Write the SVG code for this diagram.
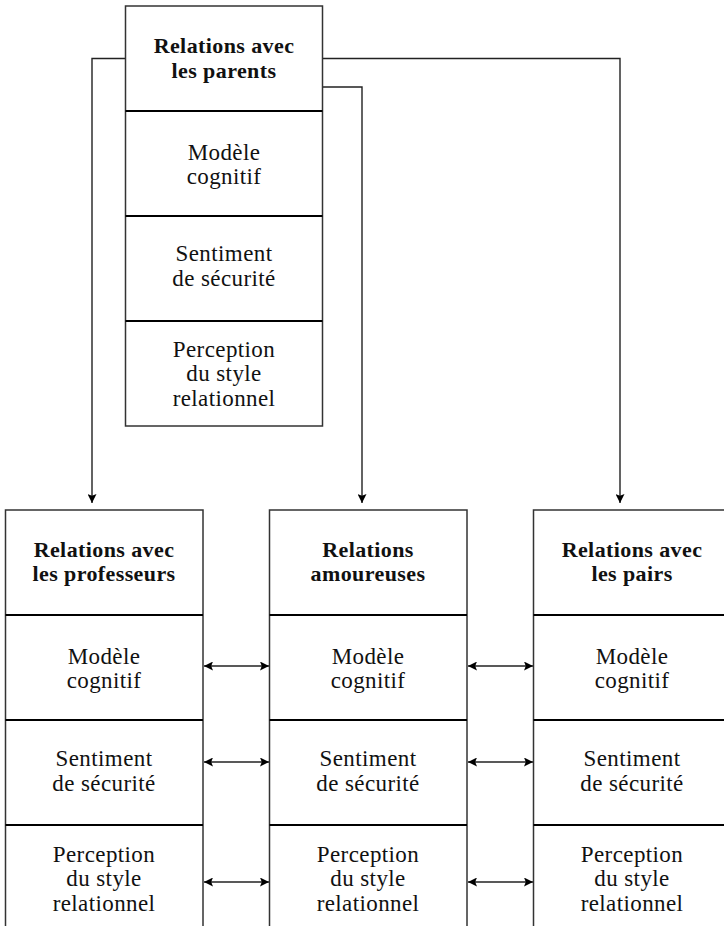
<svg xmlns="http://www.w3.org/2000/svg" width="724" height="926" viewBox="0 0 724 926">
<style>
.box{fill:#fff;stroke:#333;stroke-width:1.5}
.div{stroke:#000;stroke-width:2}
.t{font-family:"Liberation Serif","Times New Roman",serif;font-size:23px;letter-spacing:0.4px;text-anchor:middle;fill:#111}
.b{font-family:"Liberation Serif","Times New Roman",serif;font-size:22px;font-weight:bold;letter-spacing:0.4px;text-anchor:middle;fill:#111}
.c{fill:none;stroke:#222;stroke-width:1.4}
</style>
<defs>
<marker id="ah" viewBox="0 0 10 10" refX="10" refY="5" markerWidth="9" markerHeight="9" markerUnits="userSpaceOnUse" orient="auto-start-reverse">
<path d="M0,0 L10,5 L0,10 L2,5 z" fill="#000"/>
</marker>
</defs>

<g id="connectors">
<path class="c" d="M125.5,58.5 H92 V503" marker-end="url(#ah)"/>
<path class="c" d="M322.5,87 H362 V503" marker-end="url(#ah)"/>
<path class="c" d="M322.5,58.5 H620 V503" marker-end="url(#ah)"/>
<path class="c" d="M204,666 H269" marker-start="url(#ah)" marker-end="url(#ah)"/>
<path class="c" d="M204,762 H269" marker-start="url(#ah)" marker-end="url(#ah)"/>
<path class="c" d="M204,882 H269" marker-start="url(#ah)" marker-end="url(#ah)"/>
<path class="c" d="M468,666 H533" marker-start="url(#ah)" marker-end="url(#ah)"/>
<path class="c" d="M468,762 H533" marker-start="url(#ah)" marker-end="url(#ah)"/>
<path class="c" d="M468,882 H533" marker-start="url(#ah)" marker-end="url(#ah)"/>
</g>

<g id="parents">
<rect class="box" x="125.5" y="6" width="197" height="420"/>
<line class="div" x1="125.5" y1="111" x2="322.5" y2="111"/>
<line class="div" x1="125.5" y1="216" x2="322.5" y2="216"/>
<line class="div" x1="125.5" y1="321" x2="322.5" y2="321"/>
<text class="b" x="224" y="53">Relations avec</text>
<text class="b" x="224" y="78">les parents</text>
<text class="t" x="224" y="160">Modèle</text>
<text class="t" x="224" y="183.5">cognitif</text>
<text class="t" x="224" y="261">Sentiment</text>
<text class="t" x="224" y="285.5">de sécurité</text>
<text class="t" x="224" y="356.5">Perception</text>
<text class="t" x="224" y="381">du style</text>
<text class="t" x="224" y="405.5">relationnel</text>
</g>

<g id="professeurs">
<rect class="box" x="5.5" y="510" width="197.5" height="420"/>
<line class="div" x1="5.5" y1="615" x2="203" y2="615"/>
<line class="div" x1="5.5" y1="720" x2="203" y2="720"/>
<line class="div" x1="5.5" y1="825" x2="203" y2="825"/>
<text class="b" x="104" y="557">Relations avec</text>
<text class="b" x="104" y="581">les professeurs</text>
<text class="t" x="104" y="663.5">Modèle</text>
<text class="t" x="104" y="687.5">cognitif</text>
<text class="t" x="104" y="766">Sentiment</text>
<text class="t" x="104" y="791">de sécurité</text>
<text class="t" x="104" y="861.5">Perception</text>
<text class="t" x="104" y="886">du style</text>
<text class="t" x="104" y="911">relationnel</text>
</g>

<g id="amoureuses">
<rect class="box" x="269.5" y="510" width="197.5" height="420"/>
<line class="div" x1="269.5" y1="615" x2="467" y2="615"/>
<line class="div" x1="269.5" y1="720" x2="467" y2="720"/>
<line class="div" x1="269.5" y1="825" x2="467" y2="825"/>
<text class="b" x="368" y="557">Relations</text>
<text class="b" x="368" y="581">amoureuses</text>
<text class="t" x="368" y="663.5">Modèle</text>
<text class="t" x="368" y="687.5">cognitif</text>
<text class="t" x="368" y="766">Sentiment</text>
<text class="t" x="368" y="791">de sécurité</text>
<text class="t" x="368" y="861.5">Perception</text>
<text class="t" x="368" y="886">du style</text>
<text class="t" x="368" y="911">relationnel</text>
</g>

<g id="pairs">
<rect class="box" x="533.5" y="510" width="197.5" height="420"/>
<line class="div" x1="533.5" y1="615" x2="731" y2="615"/>
<line class="div" x1="533.5" y1="720" x2="731" y2="720"/>
<line class="div" x1="533.5" y1="825" x2="731" y2="825"/>
<text class="b" x="632" y="557">Relations avec</text>
<text class="b" x="632" y="581">les pairs</text>
<text class="t" x="632" y="663.5">Modèle</text>
<text class="t" x="632" y="687.5">cognitif</text>
<text class="t" x="632" y="766">Sentiment</text>
<text class="t" x="632" y="791">de sécurité</text>
<text class="t" x="632" y="861.5">Perception</text>
<text class="t" x="632" y="886">du style</text>
<text class="t" x="632" y="911">relationnel</text>
</g>
</svg>
